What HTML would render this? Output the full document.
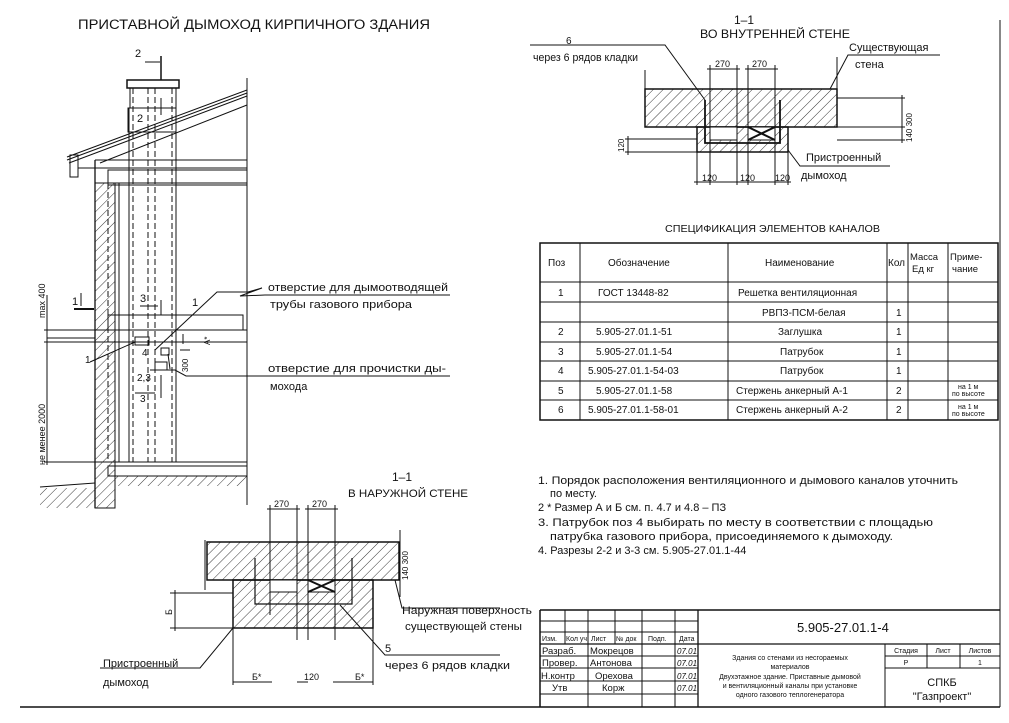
<!DOCTYPE html>
<html><head><meta charset="utf-8"><style>
html,body{margin:0;padding:0;background:#fff}
svg{display:block}
text{font-family:"Liberation Sans","DejaVu Sans",sans-serif;fill:#111}
</style></head><body>
<svg width="1009" height="723" viewBox="0 0 1009 723" xmlns="http://www.w3.org/2000/svg">
<defs>
<pattern id="h" patternUnits="userSpaceOnUse" width="7" height="7" patternTransform="rotate(45)">
<line x1="0" y1="0" x2="0" y2="7" stroke="#222" stroke-width="0.9"/></pattern>
</defs>
<g stroke="#111" fill="none" stroke-width="1">
<rect x="127" y="80" width="52" height="8" stroke-width="1.5"/>
<rect x="130" y="88" width="46" height="20"/>
<rect x="128" y="108" width="48" height="24"/>
<line x1="67" y1="157" x2="247" y2="90"/>
<line x1="67" y1="160" x2="247" y2="93"/>
<line x1="69" y1="163" x2="247" y2="96"/>
<line x1="100" y1="163" x2="247" y2="105"/>
<line x1="247" y1="78" x2="247" y2="505"/>
<rect x="70" y="155" width="8" height="22"/>
<line x1="78" y1="168" x2="95" y2="168"/>
<line x1="95" y1="160" x2="247" y2="160"/>
<line x1="95" y1="168" x2="247" y2="168"/>
<rect x="108" y="170" width="139" height="13"/>
<line x1="108" y1="185" x2="247" y2="185"/>
<rect x="95" y="183" width="20" height="325" fill="url(#h)"/>
<line x1="95" y1="160" x2="95" y2="508" stroke-width="1.3"/>
<line x1="115" y1="183" x2="115" y2="508"/>
<line x1="108" y1="183" x2="108" y2="462" stroke-dasharray="6,3"/>
<line x1="129" y1="108" x2="129" y2="462"/>
<line x1="176" y1="108" x2="176" y2="462"/>
<line x1="119" y1="183" x2="119" y2="462"/>
<g stroke-dasharray="6,3">
<line x1="133" y1="88" x2="133" y2="462"/>
<line x1="148" y1="88" x2="148" y2="462"/>
<line x1="155" y1="88" x2="155" y2="462"/>
<line x1="172" y1="88" x2="172" y2="462"/>
</g>
<rect x="108" y="315" width="135" height="15"/>
<line x1="47" y1="330" x2="247" y2="330"/>
<line x1="47" y1="342" x2="247" y2="342"/>
<line x1="47" y1="338" x2="95" y2="338"/>
<rect x="135" y="337" width="14" height="8"/>
<rect x="161" y="348" width="8" height="7"/>
<rect x="155" y="362" width="12" height="8"/>
<line x1="47" y1="462" x2="247" y2="462"/>
<rect x="108" y="466" width="139" height="10"/>
<rect x="115" y="476" width="132" height="10" fill="url(#h)" stroke="none"/>
<line x1="115" y1="476" x2="247" y2="476"/>
<path d="M40 487 L95 483" />
<rect x="40" y="488" width="55" height="20" fill="url(#h)" stroke="none"/>
<line x1="47" y1="295" x2="47" y2="465"/>
<line x1="44" y1="330" x2="50" y2="330"/><line x1="44" y1="342" x2="50" y2="342"/><line x1="44" y1="462" x2="50" y2="462"/>
<line x1="74" y1="309" x2="94" y2="309" stroke-width="2"/>
<line x1="81" y1="293" x2="81" y2="306"/>
<line x1="145" y1="62" x2="160" y2="62"/><line x1="161" y1="56" x2="161" y2="80" stroke-width="1.5"/>
<line x1="161" y1="98" x2="161" y2="115"/>
<line x1="140" y1="306" x2="158" y2="306"/><line x1="161" y1="300" x2="161" y2="315"/>
<line x1="135" y1="393" x2="155" y2="393"/><line x1="161" y1="375" x2="161" y2="398"/>
<path d="M90 362 L135 342"/>
<path d="M155 350 L217 292 L248 292 M248 292 L262 288 L240 296 L265 295 L450 295"/>
<path d="M150 370 L175 370 L186 376 L450 376"/>
<line x1="168" y1="354" x2="170" y2="369"/>
<line x1="180" y1="350" x2="190" y2="350"/>
<line x1="183" y1="334" x2="183" y2="344"/>
<line x1="205" y1="540" x2="205" y2="590"/>
<line x1="400" y1="530" x2="400" y2="585"/>
<rect x="207" y="542" width="192" height="38" fill="url(#h)" stroke-width="1.5"/>
<rect x="233" y="580" width="140" height="48" fill="url(#h)" stroke-width="1.5"/>
<rect x="270" y="580" width="27" height="12" fill="#fff"/>
<rect x="308" y="580" width="27" height="12" fill="#fff"/>
<path d="M308 580 L335 592 M335 580 L308 592" stroke-width="2"/>
<path d="M255 558 L255 604 L352 604 L352 558" stroke-width="1.2"/>
<line x1="270" y1="505" x2="270" y2="615"/><line x1="297" y1="505" x2="297" y2="640"/>
<line x1="308" y1="505" x2="308" y2="640"/><line x1="335" y1="505" x2="335" y2="640"/>
<line x1="267" y1="509" x2="300" y2="509"/><line x1="305" y1="509" x2="338" y2="509"/>
<line x1="233" y1="628" x2="233" y2="685"/><line x1="373" y1="628" x2="373" y2="685"/>
<line x1="233" y1="682" x2="272" y2="682"/><line x1="333" y1="682" x2="373" y2="682"/>
<line x1="297" y1="682" x2="308" y2="682"/>
<line x1="170" y1="593" x2="233" y2="593"/><line x1="170" y1="628" x2="233" y2="628"/>
<line x1="175" y1="590" x2="175" y2="631"/>
<line x1="400" y1="560" x2="400" y2="597"/>
<path d="M233 628 L200 668 L100 668"/>
<path d="M395 580 L402 608 L500 608"/>
<path d="M340 605 L385 655 L500 655"/>
<line x1="645" y1="70" x2="645" y2="115"/>
<line x1="837" y1="57" x2="837" y2="125"/>
<rect x="645" y="89" width="192" height="38" fill="url(#h)" stroke-width="1.5"/>
<rect x="697" y="127" width="91" height="25" fill="url(#h)" stroke-width="1.5"/>
<rect x="710" y="127" width="27" height="13" fill="#fff"/>
<rect x="748" y="127" width="27" height="13" fill="#fff"/>
<path d="M748 127 L775 140 M775 127 L748 140" stroke-width="2"/>
<path d="M705 100 L705 143 L780 143 L780 100" stroke-width="1.8"/>
<line x1="710" y1="65" x2="710" y2="185"/><line x1="737" y1="65" x2="737" y2="185"/>
<line x1="748" y1="65" x2="748" y2="185"/><line x1="775" y1="65" x2="775" y2="185"/>
<line x1="697" y1="152" x2="697" y2="185"/><line x1="788" y1="152" x2="788" y2="185"/>
<line x1="707" y1="69" x2="740" y2="69"/><line x1="745" y1="69" x2="778" y2="69"/>
<line x1="694" y1="182" x2="791" y2="182"/>
<line x1="625" y1="139" x2="697" y2="139"/><line x1="625" y1="152" x2="697" y2="152"/>
<line x1="628" y1="136" x2="628" y2="155"/>
<line x1="837" y1="98" x2="905" y2="98"/><line x1="837" y1="127" x2="905" y2="127"/><line x1="837" y1="140" x2="905" y2="140"/>
<line x1="902" y1="95" x2="902" y2="143"/>
<path d="M530 45 L665 45 L705 100"/>
<path d="M830 89 L848 55 L940 55"/>
<path d="M788 150 L800 166 L890 166"/>
<rect x="540" y="243" width="458" height="177" stroke-width="1.5"/>
<g stroke-width="1">
<line x1="540" y1="282" x2="998" y2="282"/>
<line x1="540" y1="302" x2="998" y2="302"/>
<line x1="540" y1="322" x2="998" y2="322"/>
<line x1="540" y1="342" x2="998" y2="342"/>
<line x1="540" y1="361" x2="998" y2="361"/>
<line x1="540" y1="381" x2="998" y2="381"/>
<line x1="540" y1="400" x2="998" y2="400"/>
<line x1="580" y1="243" x2="580" y2="420"/>
<line x1="728" y1="243" x2="728" y2="420"/>
<line x1="887" y1="243" x2="887" y2="420"/>
<line x1="908" y1="243" x2="908" y2="420"/>
<line x1="948" y1="243" x2="948" y2="420"/>
</g>
<line x1="540" y1="610" x2="1000" y2="610" stroke-width="1.5"/>
<line x1="20" y1="707" x2="1000" y2="707" stroke-width="1.5"/>
<line x1="1000" y1="20" x2="1000" y2="707" stroke-width="1"/>
<line x1="540" y1="610" x2="540" y2="707" stroke-width="1.5"/>
<g>
<line x1="540" y1="621" x2="698" y2="621"/>
<line x1="540" y1="632" x2="698" y2="632"/>
<line x1="540" y1="644" x2="1000" y2="644" stroke-width="1.3"/>
<line x1="540" y1="656" x2="698" y2="656"/>
<line x1="540" y1="668" x2="698" y2="668"/>
<line x1="540" y1="681" x2="698" y2="681"/>
<line x1="540" y1="694" x2="698" y2="694"/>
<line x1="565" y1="610" x2="565" y2="644"/>
<line x1="588" y1="610" x2="588" y2="707"/>
<line x1="615" y1="610" x2="615" y2="644"/>
<line x1="642" y1="610" x2="642" y2="707"/>
<line x1="675" y1="610" x2="675" y2="707"/>
<line x1="698" y1="610" x2="698" y2="707" stroke-width="1.3"/>
<line x1="885" y1="644" x2="885" y2="707"/>
<line x1="885" y1="656" x2="1000" y2="656"/>
<line x1="885" y1="668" x2="1000" y2="668"/>
<line x1="927" y1="644" x2="927" y2="668"/>
<line x1="960" y1="644" x2="960" y2="668"/>
</g>
</g>

<text x="78" y="29" font-size="13.5" textLength="352" lengthAdjust="spacingAndGlyphs">ПРИСТАВНОЙ ДЫМОХОД КИРПИЧНОГО ЗДАНИЯ</text>
<text x="135" y="57" font-size="11">2</text>
<text x="137" y="122" font-size="11">2</text>
<text x="140" y="302" font-size="11">3</text>
<text x="72" y="305" font-size="11">1</text>
<text x="192" y="306" font-size="11">1</text>
<text x="85" y="363" font-size="10">1</text>
<text x="142" y="356" font-size="10">4</text>
<text x="137" y="381" font-size="10">2,3</text>
<text x="140" y="402" font-size="10">3</text>
<text x="0" y="0" font-size="9" transform="translate(45,318) rotate(-90)">max 400</text>
<text x="0" y="0" font-size="9" transform="translate(45,465) rotate(-90)">не менее 2000</text>
<text x="0" y="0" font-size="8" transform="translate(188,372) rotate(-90)">300</text>
<text x="0" y="0" font-size="8" transform="translate(210,345) rotate(-90)">А*</text>
<text x="268" y="291" font-size="11" textLength="180" lengthAdjust="spacingAndGlyphs">отверстие для дымоотводящей</text>
<text x="270" y="308" font-size="11" textLength="142" lengthAdjust="spacingAndGlyphs">трубы газового прибора</text>
<text x="268" y="372" font-size="11" textLength="178" lengthAdjust="spacingAndGlyphs">отверстие для прочистки ды-</text>
<text x="270" y="390" font-size="11">мохода</text>

<text x="392" y="481" font-size="12">1–1</text>
<text x="348" y="497" font-size="11" textLength="120" lengthAdjust="spacingAndGlyphs">В НАРУЖНОЙ СТЕНЕ</text>
<text x="274" y="507" font-size="9">270</text>
<text x="312" y="507" font-size="9">270</text>
<text x="0" y="0" font-size="9" transform="translate(172,615) rotate(-90)">Б</text>
<text x="0" y="0" font-size="8" transform="translate(408,580) rotate(-90)">140 300</text>
<text x="252" y="680" font-size="9">Б*</text>
<text x="304" y="680" font-size="9">120</text>
<text x="355" y="680" font-size="9">Б*</text>
<text x="402" y="614" font-size="11" textLength="130" lengthAdjust="spacingAndGlyphs">Наружная поверхность</text>
<text x="405" y="630" font-size="11" textLength="117" lengthAdjust="spacingAndGlyphs">существующей стены</text>
<text x="385" y="652" font-size="11">5</text>
<text x="385" y="669" font-size="11" textLength="125" lengthAdjust="spacingAndGlyphs">через 6 рядов кладки</text>
<text x="103" y="667" font-size="11">Пристроенный</text>
<text x="103" y="686" font-size="11">дымоход</text>

<text x="734" y="24" font-size="12">1–1</text>
<text x="700" y="38" font-size="12" textLength="150" lengthAdjust="spacingAndGlyphs">ВО ВНУТРЕННЕЙ СТЕНЕ</text>
<text x="566" y="44" font-size="10">6</text>
<text x="533" y="61" font-size="11" textLength="105" lengthAdjust="spacingAndGlyphs">через 6 рядов кладки</text>
<text x="849" y="51" font-size="11">Существующая</text>
<text x="855" y="68" font-size="11">стена</text>
<text x="715" y="67" font-size="9">270</text>
<text x="752" y="67" font-size="9">270</text>
<text x="806" y="161" font-size="11">Пристроенный</text>
<text x="801" y="179" font-size="11">дымоход</text>
<text x="702" y="181" font-size="9">120</text>
<text x="740" y="181" font-size="9">120</text>
<text x="775" y="181" font-size="9">120</text>
<text x="0" y="0" font-size="8" transform="translate(912,142) rotate(-90)">140 300</text>
<text x="0" y="0" font-size="8" transform="translate(624,152) rotate(-90)">120</text>

<text x="665" y="232" font-size="10.5" textLength="215" lengthAdjust="spacingAndGlyphs">СПЕЦИФИКАЦИЯ ЭЛЕМЕНТОВ КАНАЛОВ</text>
<g font-size="10">
<text x="548" y="266">Поз</text>
<text x="608" y="266">Обозначение</text>
<text x="765" y="266">Наименование</text>
<text x="888" y="266">Кол</text>
<text x="910" y="260" font-size="9.5">Масса</text><text x="912" y="272" font-size="9.5">Ед кг</text>
<text x="950" y="260" font-size="9.5">Приме-</text><text x="952" y="272" font-size="9.5">чание</text>
<text x="558" y="296">1</text><text x="598" y="296">ГОСТ 13448-82</text><text x="738" y="296">Решетка вентиляционная</text>
<text x="762" y="316">РВПЗ-ПСМ-белая</text><text x="896" y="316">1</text>
<text x="558" y="335">2</text><text x="596" y="335">5.905-27.01.1-51</text><text x="778" y="335">Заглушка</text><text x="896" y="335">1</text>
<text x="558" y="355">3</text><text x="596" y="355">5.905-27.01.1-54</text><text x="780" y="355">Патрубок</text><text x="896" y="355">1</text>
<text x="558" y="374">4</text><text x="588" y="374">5.905-27.01.1-54-03</text><text x="780" y="374">Патрубок</text><text x="896" y="374">1</text>
<text x="558" y="394">5</text><text x="596" y="394">5.905-27.01.1-58</text><text x="736" y="394">Стержень анкерный А-1</text><text x="896" y="394">2</text>
<text x="558" y="413">6</text><text x="588" y="413">5.905-27.01.1-58-01</text><text x="736" y="413">Стержень анкерный А-2</text><text x="896" y="413">2</text>
<text x="958" y="389" font-size="7">на 1 м</text><text x="952" y="396" font-size="7">по высоте</text>
<text x="958" y="409" font-size="7">на 1 м</text><text x="952" y="416" font-size="7">по высоте</text>
</g>

<g font-size="11">
<text x="538" y="484" textLength="420" lengthAdjust="spacingAndGlyphs">1. Порядок расположения вентиляционного и дымового каналов уточнить</text>
<text x="550" y="497">по месту.</text>
<text x="538" y="511">2  * Размер А и Б см. п. 4.7 и 4.8 – ПЗ</text>
<text x="538" y="526" textLength="395" lengthAdjust="spacingAndGlyphs">3. Патрубок поз 4 выбирать по месту в соответствии с площадью</text>
<text x="550" y="540" textLength="343" lengthAdjust="spacingAndGlyphs">патрубка газового прибора, присоединяемого к дымоходу.</text>
<text x="538" y="554">4. Разрезы 2-2 и 3-3 см. 5.905-27.01.1-44</text>
</g>

<text x="797" y="632" font-size="13">5.905-27.01.1-4</text>
<g font-size="7">
<text x="542" y="641">Изм.</text><text x="566" y="641">Кол уч</text><text x="591" y="641">Лист</text><text x="616" y="641">№ док</text><text x="648" y="641">Подп.</text><text x="679" y="641">Дата</text>
</g>
<g font-size="9.5">
<text x="542" y="654">Разраб.</text><text x="590" y="654">Мокрецов</text>
<text x="542" y="666">Провер.</text><text x="590" y="666">Антонова</text>
<text x="541" y="679">Н.контр</text><text x="595" y="679">Орехова</text>
<text x="552" y="691">Утв</text><text x="602" y="691">Корж</text>
</g>
<g font-size="8" font-style="italic">
<text x="677" y="654">07.01</text><text x="677" y="666">07.01</text><text x="677" y="679">07.01</text><text x="677" y="691">07.01</text>
</g>
<g font-size="7" text-anchor="middle">
<text x="790" y="660">Здания со стенами из несгораемых</text>
<text x="790" y="669">материалов</text>
<text x="790" y="679">Двухэтажное здание. Приставные дымовой</text>
<text x="790" y="688">и вентиляционный каналы при установке</text>
<text x="790" y="697">одного газового теплогенератора</text>
<text x="906" y="653">Стадия</text><text x="943" y="653">Лист</text><text x="980" y="653">Листов</text>
<text x="906" y="665">Р</text><text x="980" y="665">1</text>
</g>
<text x="942" y="686" font-size="11" text-anchor="middle">СПКБ</text>
<text x="942" y="700" font-size="11" text-anchor="middle">"Газпроект"</text>
</svg>
</body></html>
